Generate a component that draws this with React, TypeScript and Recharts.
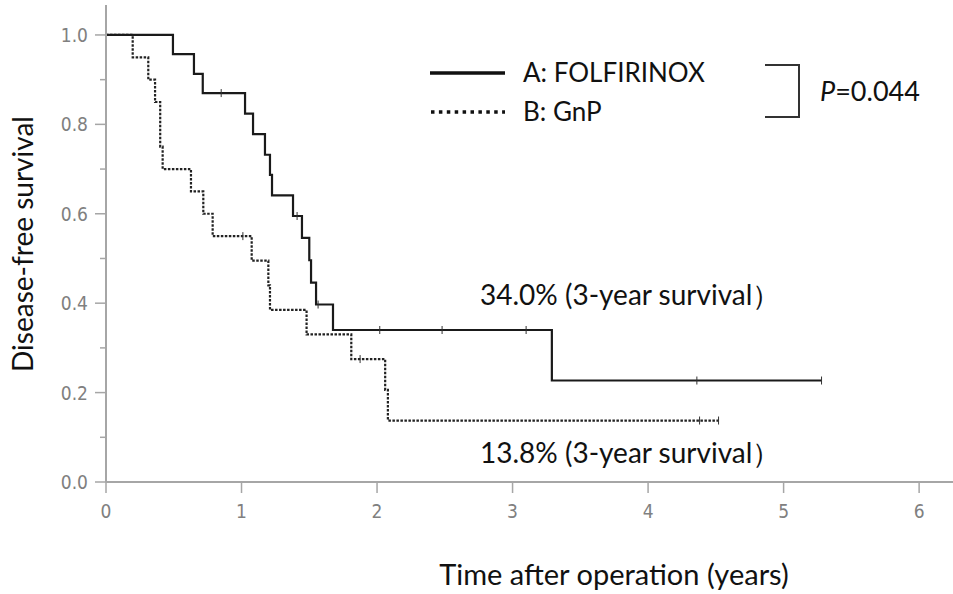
import React from "react";
import { LineChart, Line, XAxis, YAxis } from "recharts";

// Kaplan-Meier steps (time in years, survival after event, 1 = censored mark)
const timeA = [0, 0.494, 0.649, 0.714, 0.85, 1.026, 1.085, 1.173, 1.21, 1.225, 1.38, 1.41, 1.446, 1.5, 1.513, 1.55, 1.565, 1.675, 2.02, 2.48, 3.1, 3.29, 4.36, 5.28];
const survA = [1, 0.957, 0.913, 0.87, 0.87, 0.824, 0.778, 0.732, 0.687, 0.641, 0.595, 0.595, 0.546, 0.496, 0.446, 0.397, 0.397, 0.34, 0.34, 0.34, 0.34, 0.227, 0.227, 0.227];
const censA = [0, 0, 0, 0, 1, 0, 0, 0, 0, 0, 0, 1, 0, 0, 0, 0, 1, 0, 1, 1, 1, 0, 1, 1];

const timeB = [0, 0.197, 0.312, 0.362, 0.4, 0.418, 0.627, 0.718, 0.787, 1.01, 1.075, 1.198, 1.21, 1.48, 1.81, 1.875, 2.06, 2.08, 4.38, 4.52];
const survB = [1, 0.95, 0.9, 0.85, 0.75, 0.7, 0.65, 0.6, 0.55, 0.55, 0.495, 0.44, 0.385, 0.33, 0.275, 0.275, 0.206, 0.1375, 0.1375, 0.1375];
const censB = [0, 0, 0, 0, 0, 0, 0, 0, 0, 1, 0, 0, 0, 0, 0, 1, 0, 0, 1, 1];

const xTicks = [0, 1, 2, 3, 4, 5, 6];
const yTicks = [0, 0.1, 0.2, 0.3, 0.4, 0.5, 0.6, 0.7, 0.8, 0.9, 1.0];

const seriesNames = ["A: FOLFIRINOX", "B: GnP"];
const pValue = "0.044";
const notes = ["34.0% (3-year survival）", "13.8% (3-year survival）"];

const dataA = timeA.map((t, i) => ({ t, s: survA[i], c: censA[i] }));
const dataB = timeB.map((t, i) => ({ t, s: survB[i], c: censB[i] }));

const TEXT_FONT = "Lato, 'Open Sans', sans-serif";
const TICK_FONT = "'Liberation Sans Narrow', 'DejaVu Sans Condensed', sans-serif";
const AXIS = "#a6a6a6";

const censorDot = (props: any) => {
  const { cx, cy, payload, index } = props;
  if (!payload.c) return <g key={index} />;
  return <line key={index} x1={cx} x2={cx} y1={cy - 4} y2={cy + 4} stroke="#333" strokeWidth={1} />;
};

const YTick = (props: any) => {
  const { x, y, payload } = props;
  const v = payload.value;
  const major = Math.round(v * 10) % 2 === 0;
  return (
    <g>
      <line x1={x - (major ? 11 : 6)} x2={x} y1={y} y2={y} stroke={AXIS} strokeWidth={1.5} />
      {major && (
        <text x={x - 18} y={y + 7} textAnchor="end" fontSize={19} fill="#808080" fontFamily={TICK_FONT}>
          {v.toFixed(1)}
        </text>
      )}
    </g>
  );
};

const XTick = (props: any) => {
  const { x, y, payload } = props;
  return (
    <g>
      <line x1={x} x2={x} y1={y} y2={y + 11} stroke={AXIS} strokeWidth={1.5} />
      <text x={x} y={y + 36} textAnchor="middle" fontSize={19} fill="#808080" fontFamily={TICK_FONT}>
        {payload.value}
      </text>
    </g>
  );
};

export default function App() {
  return (
    <div style={{ position: "absolute", left: 0, top: 0, width: 953, height: 594, background: "#fff" }}>
      <LineChart width={953} height={594} margin={{ top: 5, right: 0, left: 46, bottom: 72 }}>
        <XAxis
          type="number"
          dataKey="t"
          domain={[0, 6.25]}
          ticks={xTicks}
          allowDataOverflow
          height={40}
          tickSize={0}
          tickMargin={0}
          tickLine={false}
          axisLine={{ stroke: AXIS, strokeWidth: 2 }}
          tick={XTick}
        />
        <YAxis
          type="number"
          dataKey="s"
          domain={[0, 1.067]}
          ticks={yTicks}
          allowDataOverflow
          width={60}
          tickSize={0}
          tickMargin={0}
          tickLine={false}
          axisLine={{ stroke: AXIS, strokeWidth: 2 }}
          tick={YTick}
        />
        <Line
          data={dataB}
          dataKey="s"
          type="stepAfter"
          stroke="#222"
          strokeWidth={2.2}
          strokeDasharray="2.5 1.5"
          dot={censorDot}
          activeDot={false}
          isAnimationActive={false}
        />
        <Line
          data={dataA}
          dataKey="s"
          type="stepAfter"
          stroke="#1a1a1a"
          strokeWidth={2.2}
          dot={censorDot}
          activeDot={false}
          isAnimationActive={false}
        />
      </LineChart>
      <svg
        width={953}
        height={594}
        style={{ position: "absolute", left: 0, top: 0, pointerEvents: "none" }}
        fontFamily={TEXT_FONT}
        fill="#111"
      >
        <line x1={430} x2={505} y1={73} y2={73} stroke="#111" strokeWidth={3.5} />
        <text x={523} y={82} fontSize={26}>{seriesNames[0]}</text>
        <line x1={431} x2={505} y1={112} y2={112} stroke="#111" strokeWidth={3.5} strokeDasharray="3.5 4.4" />
        <text x={523} y={121} fontSize={26}>{seriesNames[1]}</text>
        <path d="M765 65 H799 V117 H765" fill="none" stroke="#333" strokeWidth={2} />
        <text x={820} y={101} fontSize={27}>
          <tspan fontStyle="italic">P</tspan>={pValue}
        </text>
        <text x={480} y={305} fontSize={28}>{notes[0]}</text>
        <text x={480} y={463} fontSize={28}>{notes[1]}</text>
        <text x={614} y={585} fontSize={29} textAnchor="middle">Time after operation (years)</text>
        <text x={33} y={244} fontSize={28} textAnchor="middle" transform="rotate(-90 33 244)">
          Disease-free survival
        </text>
      </svg>
    </div>
  );
}
